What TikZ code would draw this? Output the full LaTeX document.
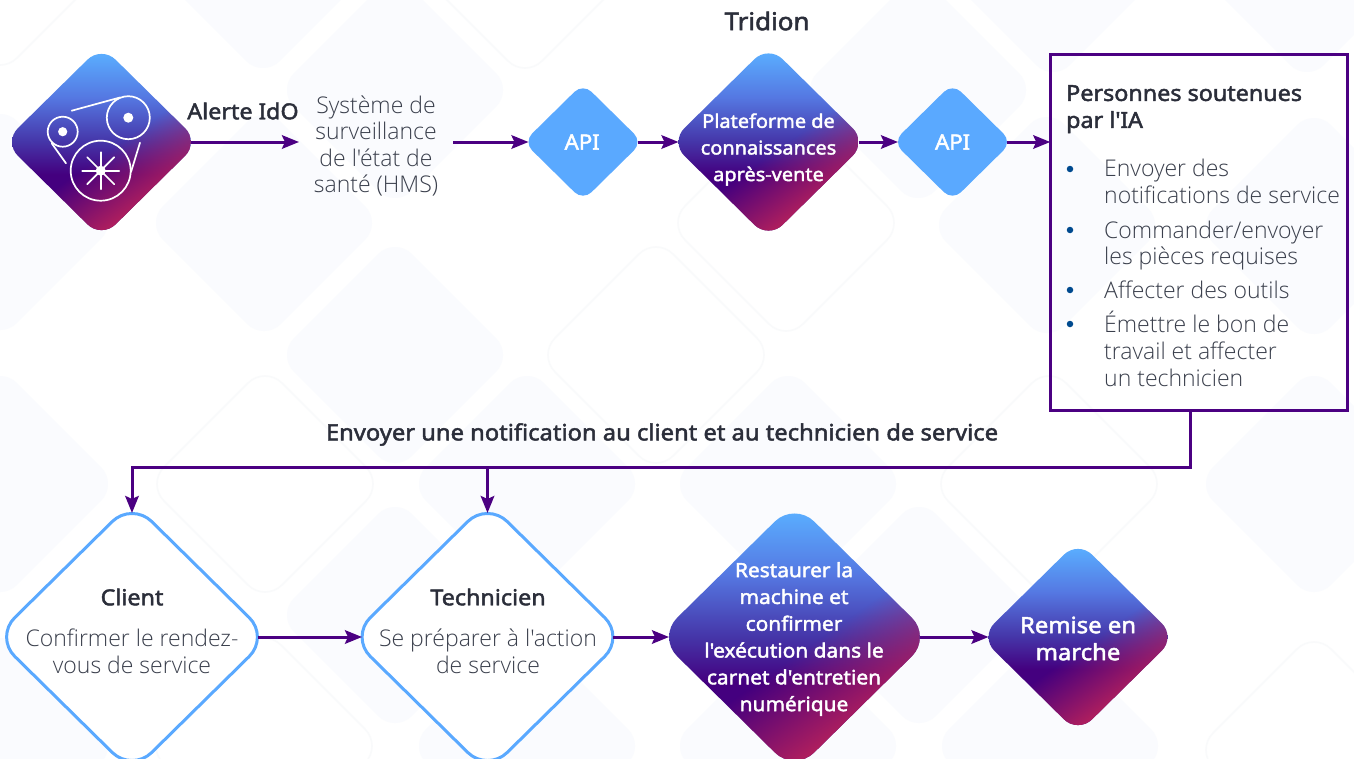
\documentclass[tikz,border=0pt]{standalone}
\usepackage{fontspec}
\usetikzlibrary{arrows.meta,fadings,calc}
\newfontfamily\basef{Noto Sans}
\IfFontExistsTF{Open Sans Light}{\newfontfamily\lightf{Open Sans Light}}{\newfontfamily\lightf{Noto Sans}}
\newfontfamily\boldf{Noto Sans}[FakeBold=2.1,FakeStretch=1.06]
\newfontfamily\barfont{Noto Sans}[FakeBold=2.1]
\newcommand{\barI}{{\barfont I}}
\definecolor{ind}{HTML}{4B0082}
\definecolor{skyb}{HTML}{5AA9FF}
\definecolor{bgfill}{HTML}{FAFBFE}
\definecolor{bgline}{HTML}{F9FAFB}
\definecolor{ink}{HTML}{2B2E3A}
\definecolor{inkl}{HTML}{3A3F4C}
\definecolor{bul}{HTML}{004A8F}
\definecolor{magt}{HTML}{B01F5E}
\definecolor{g0}{HTML}{44007F}
\definecolor{g1}{HTML}{4535A8}
\definecolor{g2}{HTML}{5578E2}
\definecolor{g3}{HTML}{5AAEFF}
\pgfdeclareverticalshading{basegrad}{100bp}{color(0bp)=(g0); color(41bp)=(g0); color(50bp)=(g1); color(62.5bp)=(g2); color(75bp)=(g3); color(100bp)=(g3)}
\pgfdeclareverticalshading{fadegrad}{100bp}{color(0bp)=(white); color(29bp)=(white); color(47bp)=(black); color(100bp)=(black)}
\pgfdeclarefading{magfade}{\pgfuseshading{fadegrad}}
\tikzset{
  arr/.style={-{Stealth[length=17pt,width=13.5pt,inset=3pt]},line width=3pt,draw=ind},
  anchorbox/.style={inner sep=0pt,outer sep=0pt,draw=none,fill=none},
  wt/.style={font=\boldf\fontsize{19.7}{26.8}\selectfont,text=white,align=center,inner sep=0pt},
  wtb/.style={font=\boldf\fontsize{22.5}{27}\selectfont,text=white,align=center,inner sep=0pt},
  bt/.style={font=\boldf\fontsize{22}{27}\selectfont,text=ink,align=center,inner sep=0pt},
  lt/.style={font=\lightf\fontsize{23}{26.6}\selectfont,text=inkl,align=center,inner sep=0pt},
  blt/.style={font=\lightf\fontsize{23}{26.8}\selectfont,text=inkl,align=left,inner sep=0pt,anchor=north west},
  bulnode/.style={circle,fill=bul,inner sep=0pt,minimum size=6.5pt},
  belt/.style={draw=white,line width=1.7pt,line cap=round},
  bgf/.style={fill=bgfill,draw=none},
  bgo/.style={draw=bgline,line width=1.6pt,fill=none}
}
\newcommand{\bgd}[3]{%
  \pgfmathsetmacro{\rr}{24}\pgfmathsetmacro{\HH}{108+0.414*\rr}%
  \path[#3,rounded corners=24pt] (#1+\HH/2,#2-\HH/2) -- (#1+\HH,#2) -- (#1,#2+\HH) -- (#1-\HH,#2) -- (#1,#2-\HH) -- cycle;}
\newcommand{\gradd}[4]{% name x y h
  \begin{scope}
    \pgfmathsetmacro{\rr}{0.22*#4}\pgfmathsetmacro{\HH}{#4+0.414*\rr}\pgfmathsetmacro{\VV}{0.985*\HH}
    \clip[rounded corners=\rr pt] (#2+\HH/2,#3-\VV/2) -- (#2+\HH,#3) -- (#2,#3+\VV) -- (#2-\HH,#3) -- (#2,#3-\VV) -- cycle;
    \shade[shading=basegrad] (#2-#4,#3-#4) rectangle (#2+#4,#3+#4);
    \fill[magt,path fading=magfade,fading transform={rotate=35}] (#2-#4,#3-#4) rectangle (#2+#4,#3+#4);
  \end{scope}
  \node[anchorbox,minimum width=2*#4 pt,minimum height=2*#4 pt] (#1) at (#2,#3) {};}
\newcommand{\flatd}[6]{% name x y h style topshift
  \pgfmathsetmacro{\rr}{0.22*#4}\pgfmathsetmacro{\HH}{#4+0.414*\rr}\pgfmathsetmacro{\VV}{0.985*\HH}
  \path[#5,rounded corners=\rr pt] (#2+\HH/2,#3-\VV/2) -- (#2+\HH,#3) -- (#2,#3+\VV) -- (#2-\HH,#3) -- (#2,#3-\VV) -- cycle;
  \node[anchorbox,minimum width=2*#4 pt,minimum height=2*#4-2*#6 pt] (#1) at (#2,#3) {};}
\begin{document}
\begin{tikzpicture}[x=1pt,y=-1pt]
\useasboundingbox (0,0) rectangle (1354,758);
\begin{scope}
\clip (0,0) rectangle (1354,758);
\fill[white] (0,0) rectangle (1354,758);
% background watermark
\bgd{395}{90}{bgf}\bgd{264}{223}{bgf}\bgd{395}{355}{bgf}\bgd{0}{222}{bgf}
\bgd{263}{-40}{bgf}\bgd{525}{-40}{bgo}\bgd{0}{-43}{bgo}\bgd{656}{355}{bgo}\bgd{786}{223}{bgo}
\bgd{918}{90}{bgf}\bgd{1047}{225}{bgf}\bgd{1314}{226}{bgf}\bgd{1307}{-36}{bgf}\bgd{1053}{-36}{bgf}
\bgd{0}{484}{bgf}\bgd{265}{484}{bgo}\bgd{527}{484}{bgf}\bgd{395}{615}{bgf}\bgd{264}{746}{bgo}
\bgd{527}{746}{bgf}\bgd{0}{746}{bgf}\bgd{788}{484}{bgf}\bgd{1049}{484}{bgo}\bgd{1314}{484}{bgf}
\bgd{919}{615}{bgf}\bgd{788}{746}{bgf}\bgd{1050}{746}{bgf}\bgd{1314}{750}{bgo}

% gradient diamonds
\gradd{icon}{101.5}{142}{89.5}
\gradd{plat}{768.5}{142}{90}
\gradd{rest}{794.5}{637}{125.5}
\gradd{rem}{1078}{637}{89.5}
% flat diamonds
\flatd{apia}{583}{142}{54.5}{fill=skyb}{0}
\flatd{apib}{952.5}{142}{54.5}{fill=skyb}{0}
\flatd{client}{132}{637}{125.5}{fill=white,draw=skyb,line width=3pt}{1.5}
\flatd{tech}{487.5}{637}{125.5}{fill=white,draw=skyb,line width=3pt}{1.5}

% icon
\coordinate (pa) at (62.7,131.7);
\coordinate (pb) at (128.3,117.7);
\coordinate (pc) at (100.7,170.7);
\draw[belt] (pa) circle (15);
\draw[belt] (pb) circle (21.5);
\draw[belt] (pc) circle (30);
\fill[white] (pa) circle (4.6);
\fill[white] (pb) circle (5);
\fill[white] (pc) circle (5);
\draw[belt] ($(pc)+(-18.5,0)$) -- ($(pc)+(18.5,0)$);
\draw[belt] ($(pc)+(0,-18.5)$) -- ($(pc)+(0,18.5)$);
\draw[belt] ($(pc)+(-13.5,-13.5)$) -- ($(pc)+(13.5,13.5)$);
\draw[belt] ($(pc)+(-13.5,13.5)$) -- ($(pc)+(13.5,-13.5)$);
\coordinate (ba) at (71.7,110.7); \coordinate (bb) at (120,97.5);
\coordinate (bc) at (51.7,143.3); \coordinate (bd) at (66,163.3);
\coordinate (be) at (140,142.7); \coordinate (bf) at (131,172);
\draw[belt] (ba) -- (bb);
\draw[belt] (bc) -- (bd);
\draw[belt] (be) -- (bf);

% texts
\node[bt,font=\boldf\fontsize{24.5}{28}\selectfont] (tridion) at (767,21) {Tridion};
\node[bt] (alerte) at (243,111) {Alerte \barI dO};
\node[anchorbox,minimum width=154pt,minimum height=10pt] (hms) at (376,142) {};
\node[lt] (hmst) at (376,146) {Système de\\surveillance\\de l'état de\\santé (HMS)};
\node[wtb,font=\boldf\fontsize{21}{26}\selectfont] (apiat) at (582,142) {AP\barI};
\node[wtb,font=\boldf\fontsize{21}{26}\selectfont] (apibt) at (952.5,142) {AP\barI};
\node[wt,font=\boldf\fontsize{18.8}{26.6}\selectfont] (platt) at (768.5,149.5) {Plateforme de\\connaissances\\après-vente};
\node[bt] (clientt) at (132,597) {Client};
\node[lt] (clientb) at (132,651.5) {Confirmer le rendez-\\vous de service};
\node[bt] (techt) at (488,597) {Technicien};
\node[lt] (techb) at (488,651.5) {Se préparer à l'action\\de service};
\node[wt] (restt) at (794,639) {Restaurer la\\machine et\\confirmer\\l'exécution dans le\\carnet d'entretien\\numérique};
\node[wtb] (remt) at (1078,638.5) {Remise en\\marche};
\node[bt,font=\boldf\fontsize{22.4}{27}\selectfont] (notif) at (662,434.5) {Envoyer une notification au client et au technicien de service};

% box
\node[anchorbox,draw=ind,line width=3pt,minimum width=297.5pt,minimum height=356.5pt] (box) at (1199,232.5) {};
\node[bt,align=left,anchor=north west,font=\boldf\fontsize{22}{27}\selectfont] (boxt) at (1066,85) {Personnes soutenues\\par l'\barI A};
\node[blt] (la) at (1104,159) {Envoyer des\\notifications de service};
\node[blt] (lb) at (1104,220.5) {Commander/envoyer\\les pièces requises};
\node[blt] (lc) at (1104,280.5) {Affecter des outils};
\node[blt] (ld) at (1104,311) {Émettre le bon de\\travail et affecter\\un technicien};
\node[bulnode] (ba1) at (1070,169) {};
\node[bulnode] (ba2) at (1070,230) {};
\node[bulnode] (ba3) at (1070,290) {};
\node[bulnode] (ba4) at (1070,324) {};

% connectors
\draw[arr] (icon.east) -- (hms.west);
\draw[arr] (hms.east) -- (apia.west);
\draw[arr] (apia.east) -- (plat.west);
\draw[arr] (plat.east) -- (apib.west);
\draw[arr] (apib.east) -- (apib.east -| box.west);
\coordinate (boxout) at (1190,411);
\coordinate (bus) at (1190,467);
\draw[arr] (boxout) -- (bus) -| (client.north);
\draw[arr] (bus -| tech.north) -- (tech.north);
\draw[arr] (client.east) -- (tech.west);
\draw[arr] (tech.east) -- (rest.west);
\draw[arr] (rest.east) -- (rem.west);
\end{scope}
\end{tikzpicture}
\end{document}
